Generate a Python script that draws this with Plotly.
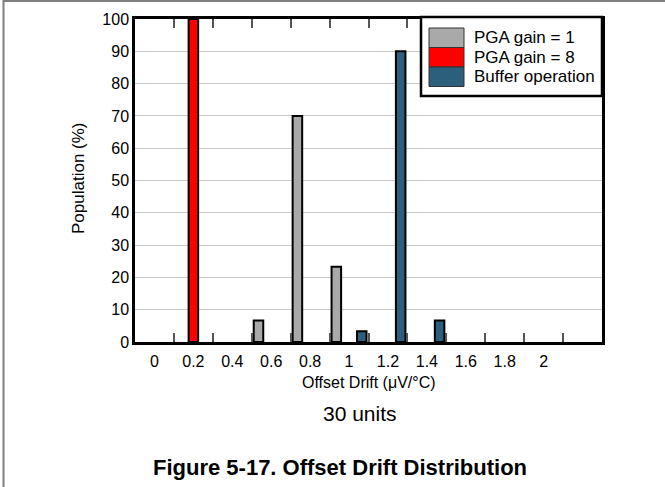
import plotly.graph_objects as go

# ---- data ----
categories = ["0", "0.2", "0.4", "0.6", "0.8", "1", "1.2", "1.4", "1.6", "1.8", "2", "2.2"]
tick_labels = ["0", "0.2", "0.4", "0.6", "0.8", "1", "1.2", "1.4", "1.6", "1.8", "2", ""]
series_names = ["PGA gain = 1", "PGA gain = 8", "Buffer operation"]
pga1_values = [None, None, None, 6.67, 70.0, 23.33, None, None, None, None, None, None]
pga8_values = [None, 100.0, None, None, None, None, None, None, None, None, None, None]
buffer_values = [None, None, None, None, None, 3.33, 90.0, 6.67, None, None, None, None]
series_colors = ["#A9A9A9", "#FF0000", "#2B5F7C"]
y_ticks = [0, 10, 20, 30, 40, 50, 60, 70, 80, 90, 100]

FONT = "Liberation Sans, Arial, sans-serif"
W_FIG, H_FIG = 665, 487
L, R, T, B = 135, 602, 19, 342
PW, PH = R - L, B - T


def px(x):
    return (x - L) / PW


def py(y):
    return (B - y) / PH


fig = go.Figure()
for name, vals, col in zip(series_names, [pga1_values, pga8_values, buffer_values], series_colors):
    fig.add_trace(go.Bar(
        x=categories, y=vals, name=name,
        marker=dict(color=col, line=dict(color="black", width=2)),
        showlegend=False,
    ))

fig.update_layout(
    width=W_FIG, height=H_FIG,
    margin=dict(l=L, r=W_FIG - R, t=T, b=H_FIG - B),
    paper_bgcolor="white", plot_bgcolor="white",
    barmode="group", bargap=0.02, bargroupgap=0.25,
    font=dict(family=FONT, size=16, color="black"),
)
fig.update_xaxes(
    type="category", categoryorder="array", categoryarray=categories,
    tickmode="array", tickvals=categories, ticktext=tick_labels,
    tickson="boundaries", ticks="inside", ticklen=9, tickwidth=1.5, tickcolor="#555",
    showline=True, linewidth=2.5, linecolor="black", mirror="ticks",
    showgrid=False, ticklabelstandoff=3,
    tickfont=dict(size=16),
)
fig.update_yaxes(
    range=[0, 100], tickmode="array", tickvals=y_ticks,
    showline=True, linewidth=2.5, linecolor="black", mirror=True,
    ticks="", showgrid=True, gridcolor="#C8C8C8", gridwidth=1,
    zeroline=False, ticklabelstandoff=0, tickfont=dict(size=16),
)

shapes = []
annotations = []

# outer page frame lines (top and left)
shapes.append(dict(type="line", xref="paper", yref="paper", x0=px(3.5), x1=px(665), y0=py(1), y1=py(1),
                   line=dict(color="#7F7F7F", width=2)))
shapes.append(dict(type="line", xref="paper", yref="paper", x0=px(3.5), x1=px(3.5), y0=py(0), y1=py(487),
                   line=dict(color="#7F7F7F", width=2)))

# legend box
shapes.append(dict(type="rect", xref="paper", yref="paper", x0=px(421), x1=px(602), y0=py(17), y1=py(96),
                   fillcolor="white", line=dict(color="black", width=2.5), layer="above"))
sw_tops = [28, 47.5, 67]
for i, (name, col) in enumerate(zip(series_names, series_colors)):
    y0 = sw_tops[i]
    shapes.append(dict(type="rect", xref="paper", yref="paper", x0=px(429), x1=px(464),
                       y0=py(y0), y1=py(y0 + 19.5), fillcolor=col,
                       line=dict(color="#333", width=1), layer="above"))
    annotations.append(dict(text=name, xref="paper", yref="paper", x=px(472), y=py(y0 + 9.75),
                            xanchor="left", yanchor="middle", showarrow=False,
                            font=dict(size=17, family=FONT)))

# axis titles
annotations.append(dict(text="Offset Drift (μV/°C)", xref="paper", yref="paper", x=px(369), y=py(382),
                        xanchor="center", yanchor="middle", showarrow=False, font=dict(size=16)))
annotations.append(dict(text="Population (%)", xref="paper", yref="paper", x=px(78), y=py(178),
                        xanchor="center", yanchor="middle", textangle=-90, showarrow=False,
                        font=dict(size=17)))
annotations.append(dict(text="30 units", xref="paper", yref="paper", x=px(360), y=py(414),
                        xanchor="center", yanchor="middle", showarrow=False, font=dict(size=21)))
annotations.append(dict(text="<b>Figure 5-17. Offset Drift Distribution</b>", xref="paper", yref="paper",
                        x=px(340), y=py(467), xanchor="center", yanchor="middle", showarrow=False,
                        font=dict(size=22)))

fig.update_layout(shapes=shapes, annotations=annotations)
fig.write_html("out.html", config={"displayModeBar": False},
               post_script="document.body.style.margin='0';document.body.style.padding='0';")
